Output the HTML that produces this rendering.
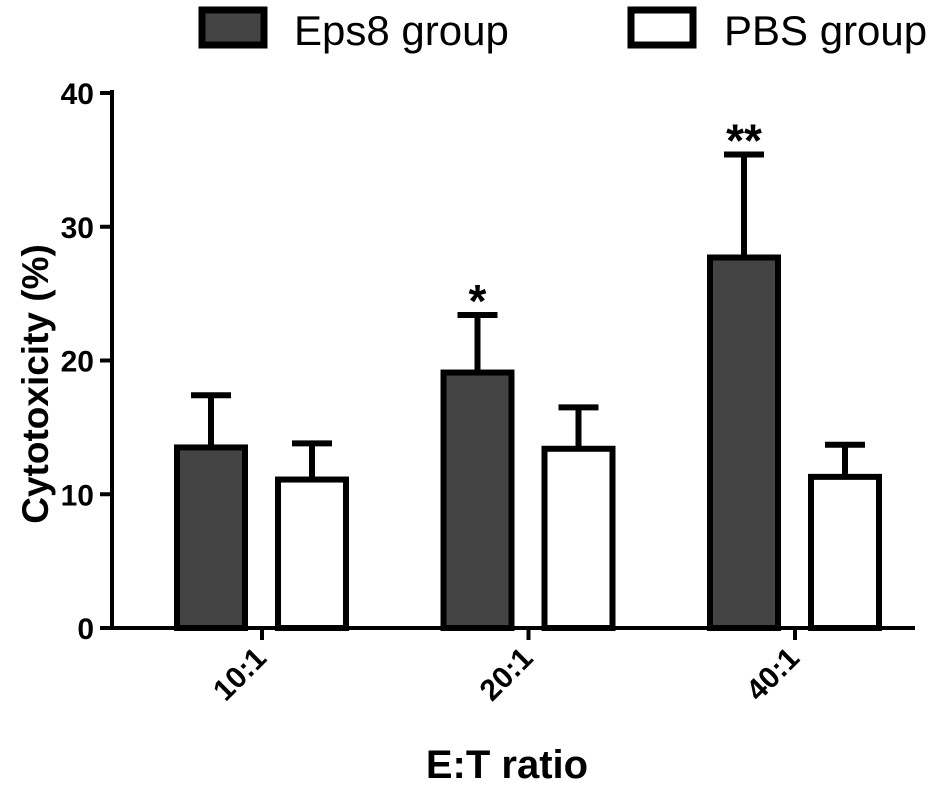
<!DOCTYPE html>
<html><head><meta charset="utf-8"><style>
body{margin:0;background:#fff}
svg{display:block;font-family:"Liberation Sans",Arial,sans-serif}
</style></head><body>
<svg id="chart" width="945" height="790">
<g>
<rect x="202" y="10" width="62" height="35" fill="#444" stroke="#000" stroke-width="7"/>
<text x="294" y="45" font-size="42">Eps8 group</text>
<rect x="631" y="10" width="62" height="35" fill="#fff" stroke="#000" stroke-width="7"/>
<text x="724" y="45" font-size="42">PBS group</text>
</g>
<g id="plot"></g>
<text x="36" y="372" font-size="37" font-weight="bold" transform="rotate(-90 48 372)" text-anchor="middle">Cytotoxicity (%)</text>
<text x="507" y="778" font-size="40" font-weight="bold" text-anchor="middle">E:T ratio</text>
</svg>
<script>
const categories=["10:1","20:1","40:1"];
const eps8Values=[13.5,19.1,27.7];
const eps8Errors=[3.9,4.3,7.7];
const pbsValues=[11.1,13.4,11.3];
const pbsErrors=[2.7,3.1,2.4];
const significance=["","*","**"];
const yTicks=[0,10,20,30,40];

const NS="http://www.w3.org/2000/svg";
const g=document.getElementById('plot');
const y0=628,yTop=93,yMax=40;
const y=v=>y0-(v/yMax)*(y0-yTop);
const xLeft=112,xRight=915;
const xc=i=>262+i*266.5;
const barW=68;
function mk(tag,attrs){const e=document.createElementNS(NS,tag);for(const k in attrs)e.setAttribute(k,attrs[k]);g.appendChild(e);return e;}

let e=mk('line',{x1:xLeft,y1:y0,x2:xLeft,y2:yTop-3,stroke:'#000','stroke-width':4});


e=mk('line',{x1:xLeft-2,y1:y0,x2:xRight,y2:y0,stroke:'#000','stroke-width':4});



yTicks.forEach(t=>{
 let l=mk('line',{x1:xLeft-12,y1:y(t),x2:xLeft,y2:y(t),stroke:'#000','stroke-width':4});
 
 
 let tx=mk('text',{x:xLeft-18,y:y(t)+11,'font-size':30,'font-weight':'bold','text-anchor':'end'});
 tx.textContent=t;
 
 
});

function bar(cx,v,err,fill,name){
 let eb=mk('line',{x1:cx,y1:y(v),x2:cx,y2:y(v+err),stroke:'#000','stroke-width':6});
 
 
 let cap=mk('line',{x1:cx-20,y1:y(v+err),x2:cx+20,y2:y(v+err),stroke:'#000','stroke-width':6});
 
 
 let r=mk('rect',{x:cx-barW/2,y:y(v),width:barW,height:y0-y(v),fill:fill,stroke:'#000','stroke-width':6});
 
 
}
categories.forEach((c,i)=>{
 const cx=xc(i);
 bar(cx-51,eps8Values[i],eps8Errors[i],'#444','bar-eps8-'+c.replace(':','-'));
 bar(cx+50,pbsValues[i],pbsErrors[i],'#fff','bar-pbs-'+c.replace(':','-'));
 if(significance[i]){
  let s=mk('text',{x:cx-51,y:y(eps8Values[i]+eps8Errors[i])+2,'font-size':46,'font-weight':'bold','text-anchor':'middle'});
  s.textContent=significance[i];
  
  
 }
 let tk=mk('line',{x1:cx,y1:y0,x2:cx,y2:y0+12,stroke:'#000','stroke-width':4});
 
 
 let lb=mk('text',{x:cx+6,y:y0+32,'font-size':30,'font-weight':'bold','text-anchor':'end',transform:`rotate(-45 ${cx+6} ${y0+32})`});
 lb.textContent=c;
 
 
});
</script>
</body></html>
